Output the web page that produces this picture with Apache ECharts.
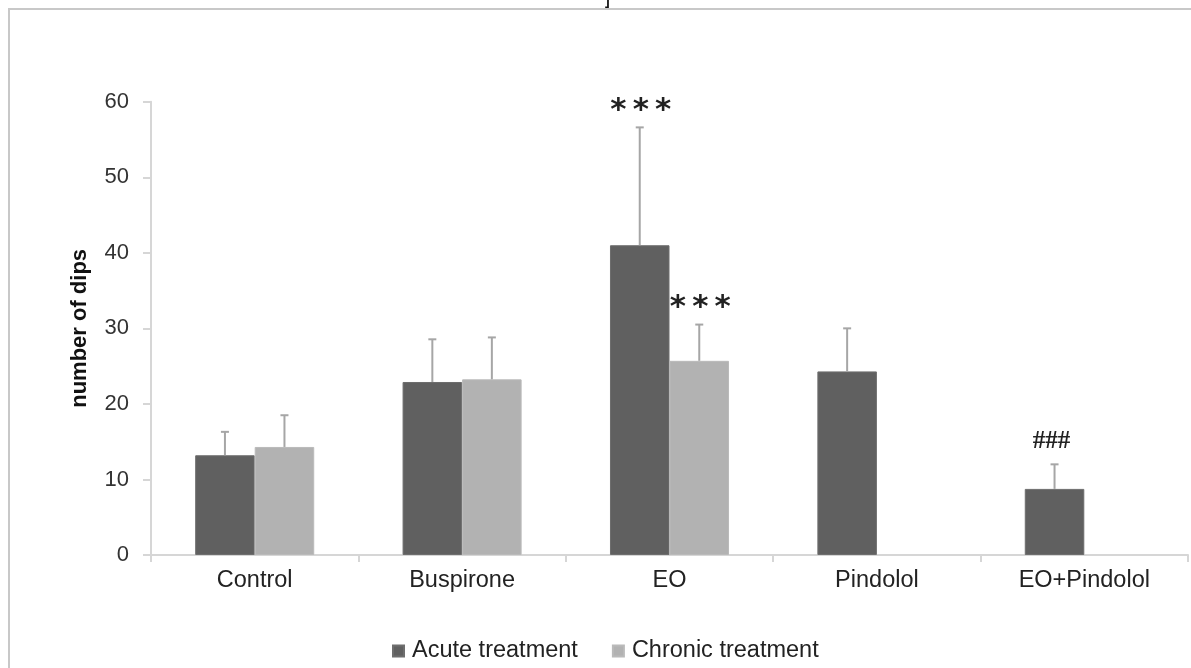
<!DOCTYPE html>
<html>
<head>
<meta charset="utf-8">
<script src="https://cdn.jsdelivr.net/npm/echarts@6/dist/echarts.min.js"></script>
<style>
  html, body { margin: 0; padding: 0; background: #fff; }
  #chart { width: 1191px; height: 668px; }
</style>
</head>
<body>
<div id="chart"></div>
<script>
const categories = ['Control', 'Buspirone', 'EO', 'Pindolol', 'EO+Pindolol'];
const acuteMean = [13.2, 22.9, 41.0, 24.3, 8.75];
const acuteErr = [3.1, 5.65, 15.6, 5.7, 3.25];
const chronicMean = [14.3, 23.25, 25.7, null, null];
const chronicErr = [4.2, 5.55, 4.8, null, null];
const acuteMarks = ['', '', '***', '', '###'];
const chronicMarks = ['', '', '***', '', ''];
const yTicks = [0, 10, 20, 30, 40, 50, 60];

const BAR_PCT = 0.287;
const axisGray = '#d6d6d6';

function errorSeries(name, means, errs, marks, side) {
    return {
        type: 'custom',
        name: name + ' err',
        silent: true,
        z: 5,
        data: means.map((m, i) => [i, m, errs[i]]),
        renderItem(params, api) {
            const mean = api.value(1);
            if (mean == null || isNaN(mean)) return null;
            const i = api.value(0);
            const err = api.value(2);
            const band = api.size([1, 0])[0];
            const base = api.coord([i, mean]);
            const top = api.coord([i, mean + err]);
            const x = base[0] + side * band * BAR_PCT / 2;
            const mark = marks[i];
            const children = [
                {type: 'line', shape: {x1: x, y1: base[1], x2: x, y2: top[1]},
                    style: {stroke: '#a6a6a6', lineWidth: 2}},
                {type: 'line', shape: {x1: x - 4, y1: top[1], x2: x + 4, y2: top[1]},
                    style: {stroke: '#a6a6a6', lineWidth: 2}},
            ];
            if (mark) {
                const hash = mark[0] === '#';
                children.push({
                    type: 'text',
                    style: {
                        // stars are drawn spaced apart, as in the figure
                        text: hash ? mark : mark.split('').join('\u2009'),
                        x: x + (hash ? -3 : 1),
                        y: top[1] - (hash ? 10 : 1),
                        align: 'center', verticalAlign: 'bottom',
                        font: hash ? 'bold 25px "Liberation Serif"' : 'bold 31px "DejaVu Sans"',
                        fill: '#222',
                    },
                });
            }
            return {type: 'group', children};
        },
    };
}

const chart = echarts.init(document.getElementById('chart'));
chart.setOption({
    animation: false,
    textStyle: {fontFamily: '"Liberation Sans", Arial, sans-serif'},
    graphic: [
        {type: 'rect', shape: {x: 9, y: 9, width: 1300, height: 800},
            style: {fill: null, stroke: '#c8c8c8', lineWidth: 2}, silent: true},
        {type: 'text', x: 605, y: -6,
            style: {text: ']', font: 'bold 14px "Liberation Sans"', fill: '#111'}},
    ],
    grid: {left: 151, right: 3, top: 101.7, bottom: 113},
    legend: {
        bottom: 0,
        left: 387,
        icon: 'rect',
        itemWidth: 11,
        itemHeight: 11,
        itemGap: 34,
        data: ['Acute treatment', 'Chronic treatment'],
        textStyle: {fontSize: 23.5, color: '#222', padding: [0, 0, 0, 3]},
    },
    xAxis: {
        type: 'category',
        data: categories,
        axisLine: {lineStyle: {color: axisGray, width: 2}},
        axisTick: {show: true, length: 7, lineStyle: {color: axisGray, width: 2}},
        axisLabel: {fontSize: 23.5, color: '#222', margin: 14},
    },
    yAxis: {
        type: 'value',
        min: yTicks[0],
        max: yTicks[yTicks.length - 1],
        interval: 10,
        name: 'number of dips',
        nameLocation: 'middle',
        nameGap: 60,
        nameTextStyle: {fontSize: 22, fontWeight: 'bold', color: '#111'},
        axisLine: {show: true, lineStyle: {color: axisGray, width: 2}},
        axisTick: {show: true, length: 8, lineStyle: {color: axisGray, width: 2}},
        splitLine: {show: false},
        axisLabel: {fontSize: 22, color: '#333', margin: 22},
    },
    series: [
        {
            type: 'bar',
            name: 'Acute treatment',
            data: acuteMean,
            barWidth: (BAR_PCT * 100) + '%',
            barGap: '0%',
            itemStyle: {color: '#606060', borderColor: '#6e6e6e', borderWidth: 1},
        },
        {
            type: 'bar',
            name: 'Chronic treatment',
            data: chronicMean,
            barWidth: (BAR_PCT * 100) + '%',
            itemStyle: {color: '#b2b2b2', borderColor: '#bababa', borderWidth: 1},
        },
        errorSeries('Acute treatment', acuteMean, acuteErr, acuteMarks, -1),
        errorSeries('Chronic treatment', chronicMean, chronicErr, chronicMarks, 1),
    ],
});
</script>
</body>
</html>
